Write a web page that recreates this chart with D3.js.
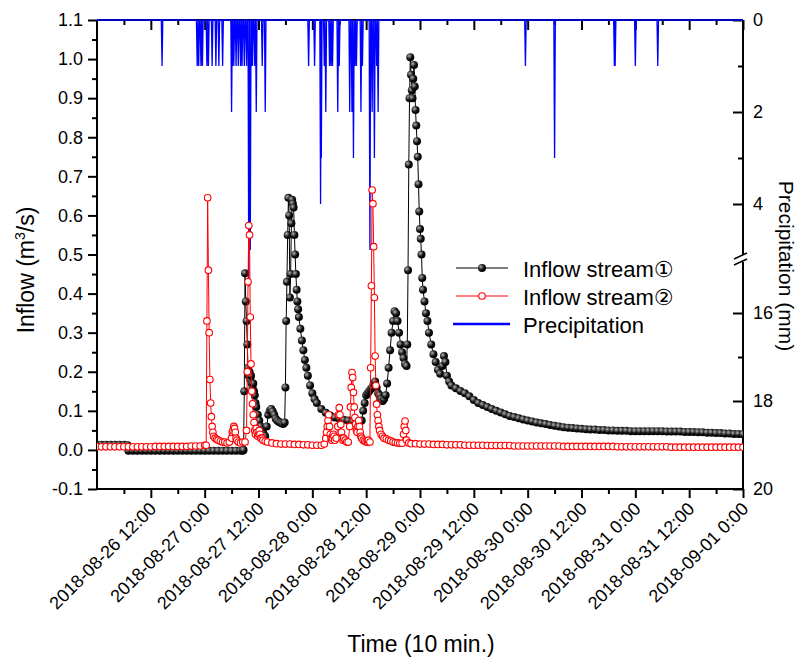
<!DOCTYPE html>
<html>
<head>
<meta charset="utf-8">
<script src="https://cdn.jsdelivr.net/npm/d3@7"></script>
<style>
  body { margin: 0; background: #fff; }
  svg { display: block; font-family: "Liberation Sans", Arial, sans-serif; }
</style>
</head>
<body>
<div id="chart"></div>
<script>
const startTime = new Date(2018, 7, 26, 0, 0);
const endTime = new Date(2018, 8, 1, 0, 0);

// [hours after 2018-08-26 0:00, inflow m3/s]
const inflow1 = [
  [0,0.013],[1,0.013],[2,0.013],[3,0.013],[4,0.013],[5,0.013],[6,0.013],[6.83,0.012],
  [7,-0.002],[8,-0.002],[9,-0.002],[10,-0.002],[11,-0.002],[12,-0.002],[13,-0.002],[14,-0.002],
  [15,-0.002],[16,-0.002],[17,-0.002],[18,-0.002],[19,-0.002],[20,-0.002],[21,-0.002],[22,-0.002],
  [23,-0.002],[24,-0.002],[25,-0.002],[26,-0.002],[27,-0.002],[28,-0.002],[29,-0.002],[30,-0.002],
  [31,-0.002],[32,-0.002],[32.5,-0.002],[32.67,0.0],[32.83,0.15],[33,0.452],[33.17,0.38],[33.33,0.33],
  [33.5,0.27],[33.67,0.21],[33.83,0.19],[34,0.2],[34.17,0.18],[34.33,0.19],[34.5,0.17],[34.67,0.16],
  [34.83,0.17],[35,0.15],[35.17,0.14],[35.33,0.12],[35.5,0.11],[35.83,0.09],[36.17,0.075],[36.5,0.06],
  [36.83,0.05],[37.17,0.04],[37.5,0.035],[37.83,0.06],[38.17,0.09],[38.5,0.1],[38.83,0.105],[39.17,0.098],
  [39.5,0.09],[39.83,0.08],[40.17,0.075],[40.5,0.072],[40.83,0.07],[41.17,0.068],[41.5,0.066],[41.83,0.07],
  [42,0.16],[42.17,0.33],[42.33,0.43],[42.5,0.55],[42.67,0.645],[42.83,0.6],[43,0.39],[43.17,0.45],
  [43.33,0.58],[43.5,0.64],[43.67,0.63],[43.83,0.62],[44,0.55],[44.17,0.5],[44.33,0.45],[44.5,0.41],
  [44.67,0.38],[44.83,0.36],[45,0.34],[45.33,0.31],[45.67,0.28],[46,0.255],[46.33,0.23],[46.67,0.21],
  [47,0.19],[47.5,0.165],[48,0.145],[48.5,0.13],[49,0.12],[50,0.105],[51,0.095],[52,0.088],
  [53,0.083],[54,0.08],[55,0.077],[56,0.075],[57,0.073],[58,0.07],[58.5,0.07],[59,0.075],
  [59.33,0.1],[59.67,0.12],[60,0.14],[60.33,0.145],[60.67,0.15],[61,0.155],[61.33,0.16],[61.67,0.17],
  [62,0.175],[62.33,0.16],[62.67,0.145],[63,0.14],[63.33,0.13],[63.67,0.125],[64,0.13],[64.33,0.14],
  [64.67,0.17],[65,0.21],[65.33,0.255],[65.67,0.3],[66,0.33],[66.33,0.355],[66.67,0.35],[67,0.33],
  [67.33,0.3],[67.67,0.27],[68,0.25],[68.33,0.235],[68.67,0.22],[69,0.215],[69.17,0.27],[69.33,0.46],
  [69.5,0.73],[69.67,0.9],[69.83,1.005],[70,0.96],[70.17,0.92],[70.33,0.9],[70.5,0.95],[70.67,0.985],
  [70.83,0.93],[71,0.87],[71.17,0.83],[71.33,0.79],[71.5,0.75],[71.67,0.68],[71.83,0.61],[72,0.565],
  [72.17,0.54],[72.33,0.5],[72.5,0.44],[72.67,0.41],[73,0.38],[73.33,0.35],[73.67,0.33],[74,0.3],
  [74.5,0.27],[75,0.245],[75.5,0.225],[76,0.205],[76.5,0.195],[77,0.215],[77.33,0.24],[77.67,0.225],
  [78,0.19],[78.5,0.175],[79,0.165],[80,0.158],[81,0.151],[82,0.145],[83,0.137],[84,0.128],
  [85,0.12],[86,0.115],[87,0.11],[88,0.105],[89,0.1],[90,0.096],[91,0.091],[92,0.087],
  [93,0.084],[94,0.081],[95,0.078],[96,0.075],[97,0.073],[98,0.07],[99,0.068],[100,0.066],
  [101,0.064],[102,0.062],[103,0.06],[104,0.058],[105,0.057],[106,0.056],[107,0.055],[108,0.054],
  [109,0.053],[110,0.052],[111,0.052],[112,0.051],[113,0.051],[114,0.05],[115,0.05],[116,0.049],
  [117,0.049],[118,0.049],[119,0.048],[120,0.048],[121,0.048],[122,0.048],[123,0.048],[124,0.048],
  [125,0.048],[126,0.048],[127,0.047],[128,0.047],[129,0.047],[130,0.047],[131,0.046],[132,0.046],
  [133,0.046],[134,0.045],[135,0.045],[136,0.044],[137,0.044],[138,0.043],[139,0.043],[140,0.042],
  [141,0.042],[142,0.041],[143,0.041],[144,0.04]
];

const inflow2 = [
  [0,0.008],[1,0.008],[2,0.008],[3,0.008],[4,0.008],[5,0.008],[6,0.008],[7,0.008],
  [8,0.008],[9,0.008],[10,0.008],[11,0.008],[12,0.008],[13,0.009],[14,0.009],[15,0.009],
  [16,0.009],[17,0.009],[18,0.009],[19,0.009],[20,0.009],[21,0.01],[22,0.01],[23,0.01],
  [24,0.012],[24.33,0.012],[24.5,0.33],[24.67,0.645],[24.83,0.46],[25,0.3],[25.17,0.18],[25.33,0.12],
  [25.5,0.085],[25.67,0.06],[25.83,0.045],[26,0.035],[26.33,0.03],[26.67,0.027],[27,0.025],[27.5,0.022],
  [28,0.02],[28.5,0.02],[29,0.018],[29.5,0.02],[30,0.03],[30.17,0.045],[30.33,0.05],[30.5,0.06],
  [30.67,0.055],[30.83,0.045],[31,0.03],[31.17,0.025],[31.5,0.02],[32,0.018],[32.5,0.02],[33,0.02],
  [33.33,0.05],[33.5,0.2],[33.67,0.43],[33.83,0.574],[34,0.55],[34.17,0.34],[34.33,0.22],[34.5,0.15],
  [34.67,0.118],[34.83,0.09],[35,0.07],[35.17,0.05],[35.33,0.04],[35.5,0.055],[35.67,0.045],[35.83,0.035],
  [36,0.04],[36.17,0.05],[36.33,0.04],[36.5,0.03],[36.83,0.03],[37,0.025],[37.5,0.022],[38,0.02],
  [39,0.018],[40,0.016],[41,0.015],[42,0.015],[43,0.015],[44,0.014],[45,0.014],[46,0.013],
  [47,0.013],[48,0.012],[49,0.012],[50,0.012],[50.67,0.015],[51,0.03],[51.17,0.045],[51.33,0.06],
  [51.5,0.075],[51.67,0.09],[51.83,0.06],[52,0.04],[52.17,0.03],[52.33,0.025],[52.5,0.03],[52.67,0.04],
  [52.83,0.035],[53,0.025],[53.33,0.03],[53.67,0.06],[53.83,0.09],[54,0.108],[54.17,0.09],[54.33,0.065],
  [54.5,0.045],[54.67,0.03],[54.83,0.025],[55,0.03],[55.33,0.025],[55.67,0.02],[56,0.02],[56.33,0.06],
  [56.5,0.11],[56.67,0.16],[56.83,0.198],[57,0.185],[57.17,0.147],[57.33,0.11],[57.5,0.083],[57.67,0.066],
  [57.83,0.05],[58,0.045],[58.17,0.06],[58.33,0.075],[58.5,0.06],[58.67,0.045],[58.83,0.035],[59,0.03],
  [59.33,0.025],[59.67,0.022],[60,0.02],[60.33,0.02],[60.5,0.025],[60.83,0.02],[61,0.21],[61.17,0.42],
  [61.33,0.665],[61.5,0.63],[61.67,0.52],[61.83,0.39],[62,0.24],[62.17,0.165],[62.33,0.117],[62.5,0.09],
  [62.67,0.075],[62.83,0.06],[63,0.05],[63.33,0.04],[63.67,0.035],[64,0.03],[64.5,0.028],[65,0.025],
  [65.5,0.023],[66,0.02],[66.5,0.019],[67,0.018],[67.5,0.017],[68,0.017],[68.33,0.04],[68.5,0.06],
  [68.67,0.074],[68.83,0.05],[69,0.025],[69.5,0.018],[70,0.016],[71,0.016],[72,0.015],[73,0.015],
  [74,0.015],[75,0.014],[76,0.014],[77,0.014],[78,0.013],[79,0.013],[80,0.013],[81,0.013],
  [82,0.012],[83,0.012],[84,0.012],[85,0.012],[86,0.012],[87,0.011],[88,0.011],[89,0.011],
  [90,0.011],[91,0.011],[92,0.011],[93,0.01],[94,0.01],[95,0.01],[96,0.01],[97,0.01],
  [98,0.01],[99,0.01],[100,0.01],[101,0.01],[102,0.01],[103,0.01],[104,0.009],[105,0.009],
  [106,0.009],[107,0.009],[108,0.009],[109,0.009],[110,0.009],[111,0.009],[112,0.009],[113,0.009],
  [114,0.009],[115,0.009],[116,0.008],[117,0.008],[118,0.008],[119,0.008],[120,0.008],[121,0.008],
  [122,0.008],[123,0.008],[124,0.008],[125,0.008],[126,0.008],[127,0.008],[128,0.007],[129,0.007],
  [130,0.007],[131,0.007],[132,0.007],[133,0.007],[134,0.007],[135,0.007],[136,0.007],[137,0.007],
  [138,0.007],[139,0.007],[140,0.007],[141,0.007],[142,0.007],[143,0.007],[144,0.007]
];

// 10-min rainfall (mm), hours after 2018-08-26 0:00
const rainHour = [14.5, 22.33, 22.67, 23.17, 23.5, 24.5, 24.83, 25.67, 26.5, 27.17, 28,
  30, 30.17, 30.5, 31, 31.5, 32, 32.33, 32.83, 33.33, 33.83, 34.17, 34.5, 34.67, 35.17, 35.5,
  36.83, 37.5, 47.17, 48.5, 49.83, 50, 50.67, 51, 51.83, 52.17, 52.5, 53.67, 54,
  56.33, 56.83, 57.17, 57.5, 57.83, 58.83, 59.17, 60.83, 61.33, 61.83, 62.33, 62.67,
  95.5, 102, 115.33, 115.5, 120, 125];
const rainMm = [1, 1, 1, 1, 1, 1, 1, 1, 1, 1, 1,
  2, 1, 1, 1, 1, 1, 1, 1, 1, 15.4, 5, 1, 1, 1, 2,
  1, 2, 1, 1, 4, 3, 1, 2, 1, 1, 1, 2, 1,
  2, 2, 3, 1, 1, 2, 1, 5, 2, 3, 1, 2,
  1, 3, 1, 1, 1, 1];

const inflowTicks = [-0.1, 0, 0.1, 0.2, 0.3, 0.4, 0.5, 0.6, 0.7, 0.8, 0.9, 1.0, 1.1];
const inflowMinor = d3.range(-0.05, 1.1, 0.1);
const rainTicksTop = [0, 2, 4];
const rainMinorTop = [1, 3];
const rainTicksBottom = [16, 18, 20];
const rainMinorBottom = [17, 19];
const legendNames = ["Inflow stream", "Inflow stream", "Precipitation"];
const legendMarks = ["①", "②", ""];

const W = 800, H = 662;
const L = 97, R = 743, T = 20, B = 489;

const svg = d3.select("#chart").append("svg").attr("width", W).attr("height", H);

const x = d3.scaleTime().domain([startTime, endTime]).range([L, R]);
const y = d3.scaleLinear().domain([-0.1, 1.1]).range([B, T]);
const rainTop = d3.scaleLinear().domain([0, 4]).range([T, 204]);
const rainBot = d3.scaleLinear().domain([16, 20]).range([313, B]);
const rainY = v => v < 10 ? rainTop(v) : rainBot(v);
const toDate = h => d3.timeMinute.offset(startTime, Math.round(h * 60));

const defs = svg.append("defs");
const grad = defs.append("radialGradient").attr("id", "ball")
  .attr("cx", "35%").attr("cy", "35%").attr("r", "65%");
grad.append("stop").attr("offset", "0%").attr("stop-color", "#b0b0b0");
grad.append("stop").attr("offset", "60%").attr("stop-color", "#111");
grad.append("stop").attr("offset", "100%").attr("stop-color", "#000");
defs.append("clipPath").attr("id", "plot")
  .append("rect").attr("x", L).attr("y", T - 2).attr("width", R - L).attr("height", B - T + 2);

// axes
function styleAxis(g) {
  g.select(".domain").remove();
  g.selectAll(".tick line").attr("stroke", "#000").attr("stroke-width", 2);
  g.selectAll("text").attr("fill", "#000").style("font-size", "18px")
    .style("font-family", "Liberation Sans, Arial, sans-serif");
}

svg.append("g").attr("transform", `translate(${L},0)`)
  .call(d3.axisLeft(y).tickValues(inflowTicks).tickSize(9).tickPadding(5).tickFormat(d => d.toFixed(1)))
  .call(styleAxis);
svg.append("g").attr("transform", `translate(${L},0)`)
  .call(d3.axisLeft(y).tickValues(inflowMinor).tickSize(5).tickFormat(""))
  .call(styleAxis);

const major = d3.timeHour.every(12).range(d3.timeHour.offset(startTime, 12), d3.timeHour.offset(endTime, 1));
const minor = d3.timeHour.every(6).range(startTime, d3.timeHour.offset(endTime, 1))
  .filter(d => d.getHours() % 12 !== 0);
const fmt = d3.timeFormat("%Y-%m-%d %-H:%M");

const xAxis = svg.append("g").attr("transform", `translate(0,${B})`)
  .call(d3.axisBottom(x).tickValues(major).tickSize(9).tickFormat(fmt))
  .call(styleAxis);
xAxis.selectAll("text")
  .attr("x", 0).attr("y", 0).attr("dy", 0)
  .attr("transform", "translate(6,21) rotate(-45)")
  .style("text-anchor", "end");
svg.append("g").attr("transform", `translate(0,${B})`)
  .call(d3.axisBottom(x).tickValues(minor).tickSize(5).tickFormat(""))
  .call(styleAxis);
svg.append("g").attr("transform", `translate(0,${T})`)
  .call(d3.axisBottom(x).tickValues(major).tickSize(10).tickFormat(""))
  .call(styleAxis);
svg.append("g").attr("transform", `translate(0,${T})`)
  .call(d3.axisBottom(x).tickValues(minor).tickSize(5).tickFormat(""))
  .call(styleAxis);

// right axis, broken
const rAxisTop = svg.append("g").attr("transform", `translate(${R},0)`)
  .call(d3.axisLeft(rainTop).tickValues(rainTicksTop).tickSize(10).tickFormat(d3.format("d")))
  .call(styleAxis);
const rAxisBot = svg.append("g").attr("transform", `translate(${R},0)`)
  .call(d3.axisLeft(rainBot).tickValues(rainTicksBottom).tickSize(10).tickFormat(d3.format("d")))
  .call(styleAxis);
[rAxisTop, rAxisBot].forEach(g => g.selectAll("text")
  .attr("x", 10).style("text-anchor", "start"));
svg.append("g").attr("transform", `translate(${R},0)`)
  .call(d3.axisLeft(rainTop).tickValues(rainMinorTop).tickSize(5).tickFormat(""))
  .call(styleAxis);
svg.append("g").attr("transform", `translate(${R},0)`)
  .call(d3.axisLeft(rainBot).tickValues(rainMinorBottom).tickSize(5).tickFormat(""))
  .call(styleAxis);

// frame
const frame = svg.append("g").attr("stroke", "#000").attr("stroke-width", 2);
frame.append("line").attr("x1", L).attr("x2", L).attr("y1", T).attr("y2", B + 1);
frame.append("line").attr("x1", L - 1).attr("x2", R + 1).attr("y1", B).attr("y2", B);
frame.append("line").attr("x1", L).attr("x2", R).attr("y1", T).attr("y2", T);
frame.append("line").attr("x1", R).attr("x2", R).attr("y1", T).attr("y2", 255);
frame.append("line").attr("x1", R).attr("x2", R).attr("y1", 262).attr("y2", B + 1);
frame.append("line").attr("x1", R - 9).attr("x2", R + 4).attr("y1", 259).attr("y2", 253).attr("stroke-width", 1.5);
frame.append("line").attr("x1", R - 9).attr("x2", R + 4).attr("y1", 265).attr("y2", 259).attr("stroke-width", 1.5);

// precipitation line
const rainPts = [[0, 0]];
rainHour.forEach((h, i) => {
  rainPts.push([h - 1 / 6, 0], [h, rainMm[i]], [h + 1 / 6, 0]);
});
rainPts.push([144, 0]);
const plot = svg.append("g").attr("clip-path", "url(#plot)");
plot.append("path").datum(rainPts)
  .attr("fill", "none").attr("stroke", "#0000ff").attr("stroke-width", 1.3)
  .attr("d", d3.line().x(d => x(toDate(d[0]))).y(d => rainY(d[1])));

// inflow series
const flowLine = d3.line().x(d => x(toDate(d[0]))).y(d => y(d[1]));
plot.append("path").datum(inflow1)
  .attr("fill", "none").attr("stroke", "#000").attr("stroke-width", 1).attr("d", flowLine);
plot.selectAll(".m1").data(inflow1).join("circle").attr("class", "m1")
  .attr("cx", d => x(toDate(d[0]))).attr("cy", d => y(d[1])).attr("r", 4)
  .attr("fill", "url(#ball)");
plot.append("path").datum(inflow2)
  .attr("fill", "none").attr("stroke", "#ff0000").attr("stroke-width", 1).attr("d", flowLine);
plot.selectAll(".m2").data(inflow2).join("circle").attr("class", "m2")
  .attr("cx", d => x(toDate(d[0]))).attr("cy", d => y(d[1])).attr("r", 3.3)
  .attr("fill", "#fff").attr("stroke", "#ff0000").attr("stroke-width", 1.1);

// legend
const legendY = [268, 296, 324];
const lg = svg.append("g");
legendY.forEach((ly, i) => {
  if (i < 2) {
    lg.append("line").attr("x1", 456).attr("x2", 508).attr("y1", ly).attr("y2", ly)
      .attr("stroke", i === 0 ? "#000" : "#ff0000").attr("stroke-width", 1);
    if (i === 0) {
      lg.append("circle").attr("cx", 482).attr("cy", ly).attr("r", 4).attr("fill", "url(#ball)");
    } else {
      lg.append("circle").attr("cx", 482).attr("cy", ly).attr("r", 3.3)
        .attr("fill", "#fff").attr("stroke", "#ff0000").attr("stroke-width", 1.1);
    }
  } else {
    lg.append("line").attr("x1", 453).attr("x2", 510).attr("y1", ly).attr("y2", ly)
      .attr("stroke", "#0000ff").attr("stroke-width", 2.5);
  }
  const t = lg.append("text").attr("x", 523).attr("y", ly + 9)
    .style("font-size", "22px").attr("fill", "#000");
  t.append("tspan").text(legendNames[i]);
  if (legendMarks[i]) {
    t.append("tspan").text(legendMarks[i])
      .style("font-family", "DejaVu Sans").style("font-size", "22px");
  }
});

// titles
svg.append("text").attr("transform", "translate(34,270) rotate(-90)")
  .style("text-anchor", "middle").style("font-size", "23px")
  .call(t => {
    t.append("tspan").text("Inflow (m");
    t.append("tspan").text("3").style("font-size", "14px").attr("dy", -9);
    t.append("tspan").text("/s)").attr("dy", 9);
  });
svg.append("text").attr("transform", "translate(779,266) rotate(90)")
  .style("text-anchor", "middle").style("font-size", "21px").text("Precipitation (mm)");
svg.append("text").attr("x", 421).attr("y", 652)
  .style("text-anchor", "middle").style("font-size", "23px").text("Time (10 min.)");
</script>
</body>
</html>
